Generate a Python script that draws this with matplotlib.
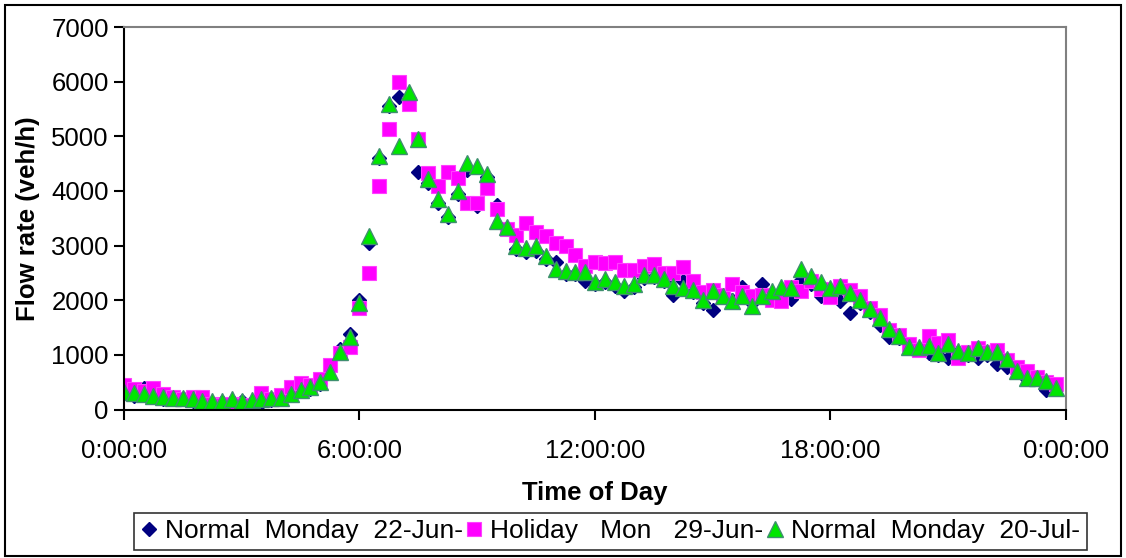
import numpy as np
import matplotlib.pyplot as plt
from matplotlib.patches import Rectangle
from matplotlib.ticker import FuncFormatter, MultipleLocator

# quarter-hour flow rates (veh/h), 0:00 .. 23:45
hours = np.arange(96) * 0.25

normal_22jun = [
    360, 250, 400, 260, 200, 210, 200, 150, 130, 120, 140, 150,
    160, 140, 120, 180, 210, 260, 330, 380, 470, 750, 1100, 1380,
    2000, 3050, 4600, 5550, 5710, 5650, 4345, 4150, 3780, 3520, 3950, 4380,
    3720, 4250, 3750, 3300, 2930, 2880, 2900, 2760, 2700, 2480, 2480, 2350,
    2300, 2330, 2260, 2170, 2250, 2400, 2420, 2350, 2100, 2345, 2150, 1950,
    1830, 2050, 2000, 2240, 1950, 2290, 2100, 2150, 2020, 2376, 2300, 2070,
    2150, 1980, 1770, 1950, 1780, 1550, 1330, 1300, 1120, 1100, 1031, 1000,
    950, 1060, 1000, 940, 1000, 840, 785, 680, 550, 550, 350, 380,
]

holiday_29jun = [
    450, 380, 330, 400, 280, 230, 200, 230, 230, 100, 80, 100,
    90, 80, 297, 200, 260, 407, 480, 450, 560, 816, 1040, 1140,
    1857, 2499, 4088, 5128, 5985, 5587, 4945, 4334, 4088, 4350, 4242, 3783,
    3783, 4059, 3661, 3300, 3200, 3417, 3250, 3171, 3050, 3000, 2835, 2620,
    2700, 2690, 2700, 2560, 2560, 2620, 2660, 2499, 2500, 2600, 2360, 2150,
    2190, 2100, 2300, 2150, 2085, 2100, 2009, 1978, 2250, 2170, 2345, 2200,
    2050, 2253, 2193, 2070, 1857, 1734, 1459, 1360, 1190, 1092, 1350, 1214,
    1275, 939, 1050, 1122, 1050, 1092, 908, 785, 700, 602, 511, 460,
]

normal_20jul = [
    327, 309, 284, 253, 235, 217, 217, 193, 150, 150, 150, 193,
    150, 174, 187, 205, 217, 284, 358, 407, 510, 694, 1061, 1336,
    1949, 3171, 4639, 5587, 4822, 5802, 4945, 4211, 3844, 3587, 3997, 4517,
    4456, 4303, 3459, 3343, 2988, 2958, 2988, 2817, 2572, 2541, 2511, 2511,
    2327, 2389, 2327, 2253, 2303, 2468, 2468, 2389, 2266, 2223, 2193, 2009,
    2162, 2083, 1978, 2083, 1886, 2083, 2162, 2242, 2223, 2572, 2437, 2327,
    2223, 2266, 2132, 2009, 1838, 1673, 1471, 1349, 1141, 1141, 1165, 1031,
    1196, 1079, 1031, 1122, 1061, 1061, 921, 712, 572, 572, 523, 389,
]

# the legend text is justified in the original, hence the wide gaps
labels = ['Normal  Monday  22-Jun-', 'Holiday   Mon   29-Jun-', 'Normal  Monday  20-Jul-']

plt.rcParams['font.family'] = ['Liberation Sans', 'DejaVu Sans']
fs = 18.5

fig = plt.figure(figsize=(11.26, 5.58), dpi=100)
ax = fig.add_axes([0.1101, 0.2661, 0.8366, 0.6855])

ax.plot(hours, normal_22jun, linestyle='none', marker='D', markersize=7.5,
        color='#000080', label=labels[0])
ax.plot(hours, holiday_29jun, linestyle='none', marker='s', markersize=10.5,
        markerfacecolor='#ff00ff', markeredgecolor='#ff40ff', markeredgewidth=0.8,
        label=labels[1])
ax.plot(hours, normal_20jul, linestyle='none', marker='^', markersize=12,
        markerfacecolor='#00e600', markeredgecolor='#3f8f6f', markeredgewidth=1.0,
        label=labels[2])

ax.set_xlim(0, 24)
ax.set_ylim(0, 7000)
ax.xaxis.set_major_locator(MultipleLocator(6))
ax.yaxis.set_major_locator(MultipleLocator(1000))
ax.xaxis.set_major_formatter(FuncFormatter(lambda v, p: f'{int(v) % 24}:00:00'))

ax.tick_params(axis='both', labelsize=fs, direction='out', width=1.5, colors='black')
ax.tick_params(axis='x', length=7, pad=14)
ax.tick_params(axis='y', length=7, pad=4)

for side in ['top', 'right']:
    ax.spines[side].set_color('#808080')
    ax.spines[side].set_linewidth(1.5)
ax.spines['bottom'].set_linewidth(1.5)
ax.spines['left'].set_linewidth(1.5)

ax.set_xlabel('Time of Day', fontsize=fs, fontweight='bold', labelpad=13)
ax.set_ylabel('Flow rate (veh/h)', fontsize=fs, fontweight='bold', labelpad=8)

leg = fig.legend(loc='center', bbox_to_anchor=(0.5422, 0.0475), ncol=3,
                 fontsize=19, frameon=True, fancybox=False, handlelength=0.6,
                 handletextpad=0.3, columnspacing=0.15, borderpad=0.25,
                 borderaxespad=0)
leg.get_frame().set_edgecolor('black')
leg.get_frame().set_linewidth(1.2)

fig.patches.append(Rectangle((0.0044, 0.0036), 0.991, 0.9875, transform=fig.transFigure,
                             fill=False, edgecolor='black', linewidth=1.5))

fig.savefig('out.png', dpi=100)
plt.close(fig)
